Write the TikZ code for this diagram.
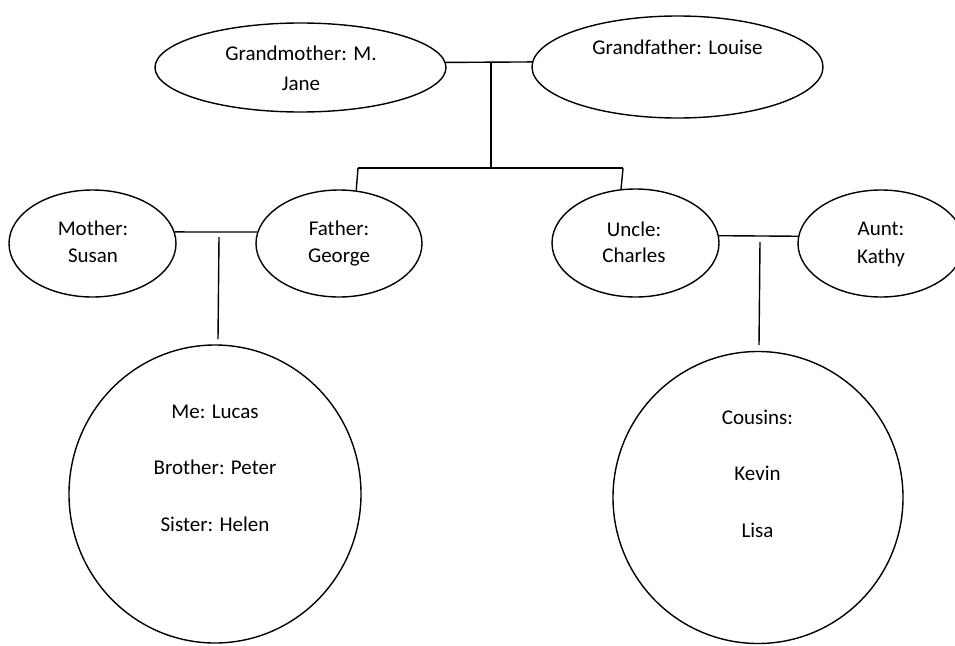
\documentclass[tikz,border=0pt]{standalone}
\usepackage{fontspec}
\setmainfont{Carlito}
\usetikzlibrary{shapes.geometric}
\begin{document}
\begin{tikzpicture}[x=1pt,y=-1pt,
  person/.style={draw=black, line width=1.4pt, ellipse, inner sep=0pt, fill=none},
  txt/.style={anchor=base, inner sep=0pt, font=\fontsize{21}{26}\selectfont},
  link/.style={draw=black, line width=1.4pt}]
\useasboundingbox (0,0) rectangle (955,645);
\clip (0,0) rectangle (955,645);
\fill[white] (0,0) rectangle (955,645);
% shapes
\node[person, minimum width=291pt, minimum height=89pt] (gm) at (300.5,67.5) {};
\node[person, minimum width=291pt, minimum height=102pt] (gf) at (677.5,67) {};
\node[person, minimum width=167pt, minimum height=107pt] (mo) at (92.5,243.5) {};
\node[person, minimum width=166pt, minimum height=107pt] (fa) at (339,243.5) {};
\node[person, minimum width=167pt, minimum height=108pt] (un) at (635.5,243) {};
\node[person, minimum width=166pt, minimum height=107pt] (au) at (881,243.5) {};
\node[person, minimum width=292pt, minimum height=298pt] (me) at (215,494) {};
\node[person, minimum width=290pt, minimum height=292pt] (co) at (758,497.5) {};
% texts
\node[txt] (tgm1) at (301,60) {Grandmother: M.};
\node[txt] (tgm2) at (301,90) {Jane};
\node[txt] (tgf) at (677.5,54) {Grandfather: Louise};
\node[txt] (tmo1) at (93,235) {Mother:};
\node[txt] (tmo2) at (93,262.5) {Susan};
\node[txt] (tfa1) at (339,235) {Father:};
\node[txt] (tfa2) at (339,262) {George};
\node[txt] (tun1) at (634,236.5) {Uncle:};
\node[txt] (tun2) at (634,262.5) {Charles};
\node[txt] (tau1) at (881,235) {Aunt:};
\node[txt] (tau2) at (881,263) {Kathy};
\node[txt] (tme1) at (215,418) {Me: Lucas};
\node[txt] (tme2) at (215,474) {Brother: Peter};
\node[txt] (tme3) at (215,531) {Sister: Helen};
\node[txt] (tco1) at (757.5,424) {Cousins:};
\node[txt] (tco2) at (757.5,480) {Kevin};
\node[txt] (tco3) at (757.5,537) {Lisa};
% junction coordinates
\coordinate (gpa) at (491,63);
\coordinate (gpb) at (491,168);
\coordinate (sibl) at (358,168);
\coordinate (sibr) at (623,168);
\coordinate (pa) at (219,237);
\coordinate (pb) at (218,339);
\coordinate (ua) at (760,242);
\coordinate (ub) at (759,345);
% connectors
\draw[link] (gm.2) -- (gf.178);
\draw[link] (gpa) -- (gpb);
\draw[link] (sibl) -- (sibr);
\draw[link] (sibl) -- (fa.72);
\draw[link] (sibr) -- (un.105);
\draw[link] (mo.8) -- (fa.172);
\draw[link] (pa) -- (pb);
\draw[link] (un.5) -- (au.175);
\draw[link] (ua) -- (ub);
\end{tikzpicture}
\end{document}
